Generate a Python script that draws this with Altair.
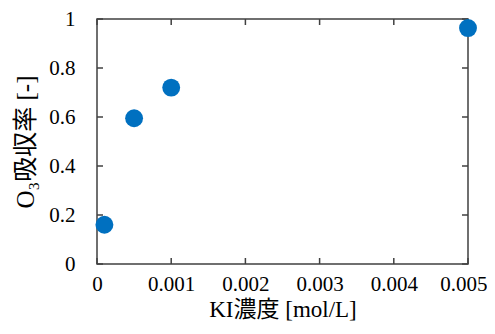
import altair as alt
import pandas as pd

# Data
ki_conc = [0.0001, 0.0005, 0.001, 0.005]
o3_absorb = [0.16, 0.595, 0.72, 0.963]
x_ticks = [0, 0.001, 0.002, 0.003, 0.004, 0.005]
y_ticks = [0, 0.2, 0.4, 0.6, 0.8, 1]

df = pd.DataFrame({"ki": ki_conc, "abs": o3_absorb})
xt = pd.DataFrame({"v": x_ticks, "lo": 0.0, "hi": 1.0})
yt = pd.DataFrame({"v": y_ticks, "lo": 0.0, "hi": 0.005})

W, H = 371, 245
TFONT = "'Liberation Serif', 'Times New Roman', 'Noto Sans CJK JP', serif"
LFONT = TFONT
AX = "#404040"
TL = 6
RPAD = 19

xscale = alt.Scale(domain=[0, 0.005], nice=False, zero=False)
yscale = alt.Scale(domain=[0, 1], nice=False)

x_axis = alt.Axis(values=x_ticks, format="~g", title="KI濃度 [mol/L]",
                  ticks=False, domain=False, grid=False,
                  labelFont=LFONT, labelFontSize=21, labelColor="black",
                  labelPadding=9, labelFlush=False,
                  labelAlign=alt.ConditionalAxisLabelAlign(
                      condition={"test": "datum.value >= 0.0049", "value": "right"},
                      value="center"),
                  labelOffset=alt.ConditionalAxisNumber(
                      condition={"test": "datum.value >= 0.0049", "value": RPAD},
                      value=0),
                  titleFont=TFONT, titleFontSize=23, titleFontWeight="normal",
                  titleColor="black", titleX=W / 2, titleY=45,
                  titleBaseline="middle", titleAlign="center")
y_axis = alt.Axis(values=y_ticks, format="~g", title="O₃吸収率 [-]",
                  ticks=False, domain=False, grid=False,
                  labelFont=LFONT, labelFontSize=21, labelColor="black",
                  labelPadding=22, labelFlush=False,
                  titleFont=TFONT, titleFontSize=25, titleFontWeight="normal",
                  titleColor="black", titleX=-72, titleY=H / 2,
                  titleBaseline="middle", titleAlign="center", titleAngle=-90)

points = alt.Chart(df).mark_circle(size=320, color="#0070C0", opacity=1).encode(
    x=alt.X("ki:Q", scale=xscale, axis=x_axis),
    y=alt.Y("abs:Q", scale=yscale, axis=y_axis),
)

bottom = alt.Chart(xt).mark_rule(color=AX, strokeWidth=1.5, y2Offset=-TL).encode(
    x=alt.X("v:Q", scale=xscale, axis=x_axis),
    y=alt.Y("lo:Q", scale=yscale, axis=y_axis), y2="lo:Q")
top = alt.Chart(xt).mark_rule(color=AX, strokeWidth=1.5, y2Offset=TL).encode(
    x=alt.X("v:Q", scale=xscale, axis=x_axis),
    y=alt.Y("hi:Q", scale=yscale, axis=y_axis), y2="hi:Q")
left = alt.Chart(yt).mark_rule(color=AX, strokeWidth=1.5, x2Offset=TL).encode(
    y=alt.Y("v:Q", scale=yscale, axis=y_axis),
    x=alt.X("lo:Q", scale=xscale, axis=x_axis), x2="lo:Q")
right = alt.Chart(yt).mark_rule(color=AX, strokeWidth=1.5, x2Offset=-TL).encode(
    y=alt.Y("v:Q", scale=yscale, axis=y_axis),
    x=alt.X("hi:Q", scale=xscale, axis=x_axis), x2="hi:Q")

chart = alt.layer(bottom, top, left, right, points).properties(
    width=W, height=H,
    background="white",
    autosize=alt.AutoSizeParams(type="none"),
    padding={"left": 89, "top": 11, "right": RPAD, "bottom": 57},
).configure(
    view=alt.ViewConfig(stroke=AX, strokeWidth=1.5),
    axis=alt.AxisConfig(labelFont=LFONT, titleFont=TFONT),
    style={"guide-label": {"font": LFONT}, "guide-title": {"font": TFONT}},
)

chart.save("out.html", embed_options={"renderer": "svg", "actions": False})
